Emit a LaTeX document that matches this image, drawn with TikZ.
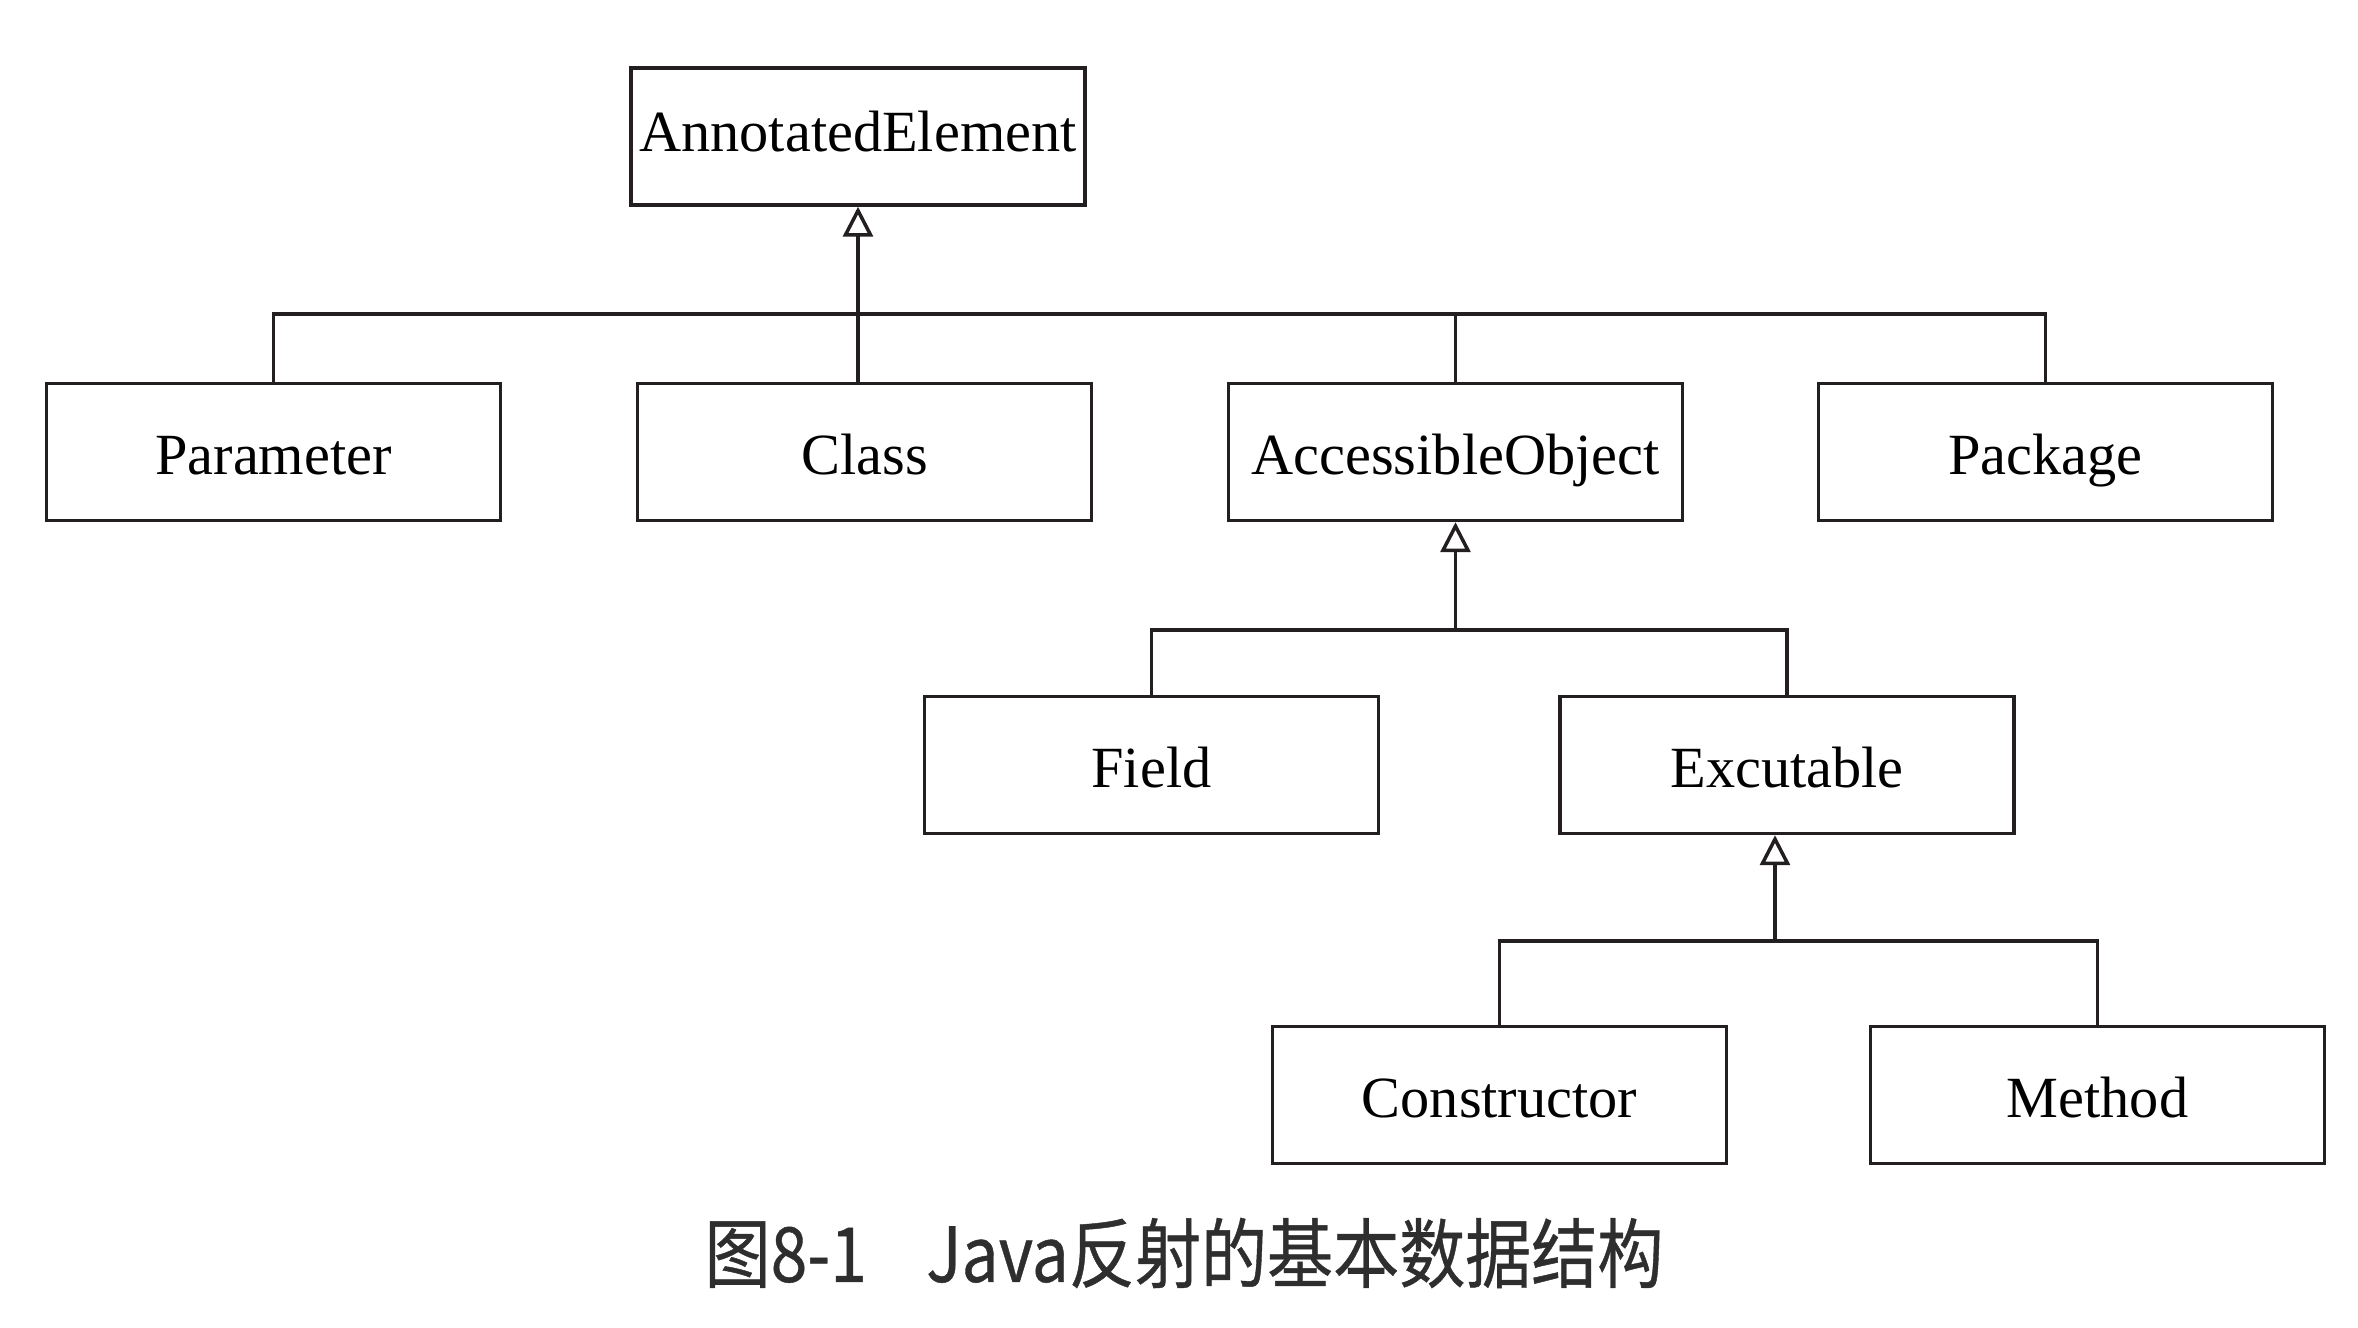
\documentclass[tikz,border=0pt]{standalone}
\usepackage{fontspec}
\setmainfont{Liberation Serif}
\newfontfamily\cjk[FakeBold=0.6]{Noto Sans CJK SC}
\usetikzlibrary{arrows.meta}
\definecolor{linegray}{HTML}{231F20}
\definecolor{captiongray}{HTML}{2E2E2E}
\tikzset{
	classbox/.style={draw=linegray, line width=0.035cm, minimum width=4.54cm, minimum height=1.37cm, inner sep=0pt, text height=16pt, text depth=3.1pt, font=\fontsize{16.6}{20}\selectfont},
	link/.style={draw=linegray, line width=0.035cm},
	inherit/.style={link, -{Triangle[open, length=0.3cm, width=0.3cm]}}
}
\begin{document}
\begin{tikzpicture}
			\useasboundingbox (0,0) rectangle (23.58,13.28);
			
			\node[classbox] (annotated) at (8.58,11.915) {\raisebox{0.075cm}{AnnotatedElement}};
			
			\node[classbox] (parameter) at (2.735,8.76) {Parameter};
			\node[classbox] (class) at (8.645,8.76) {Class};
			\node[classbox] (accessible) at (14.555,8.76) {AccessibleObject};
			\node[classbox] (package) at (20.455,8.76) {Package};
			
			\node[classbox] (field) at (11.515,5.63) {Field};
			\node[classbox] (excutable) at (17.87,5.63) {Excutable};
			
			\node[classbox] (constructor) at (14.995,2.33) {Constructor};
			\node[classbox] (method) at (20.975,2.33) {Method};
			
			
			\coordinate (bus1) at (0,10.14);
			\coordinate (bus2) at (0,6.98);
			\coordinate (bus3) at (0,3.87);
			\coordinate (arrow3) at ([xshift=-0.12cm]excutable.south);
			
			\draw[link] (parameter.north) -- (parameter.north |- bus1) -- (package.north |- bus1) -- (package.north);
			\draw[link] (accessible.north) -- (accessible.north |- bus1);
			\draw[inherit] (class.north -| annotated.south) -- (annotated.south);
			
			\draw[link] (field.north) -- (field.north |- bus2) -- (excutable.north |- bus2) -- (excutable.north);
			\draw[inherit] (accessible.south |- bus2) -- (accessible.south);
			
			\draw[link] (constructor.north) -- (constructor.north |- bus3) -- (method.north |- bus3) -- (method.north);
			\draw[inherit] (arrow3 |- bus3) -- (arrow3);
			
			\node[text=captiongray, xscale=0.87, font=\cjk\fontsize{21.6}{26}\selectfont] (caption) at (11.84,0.75) {图8-1\hspace{0.9em}Java反射的基本数据结构};

	\end{tikzpicture}
\end{document}
